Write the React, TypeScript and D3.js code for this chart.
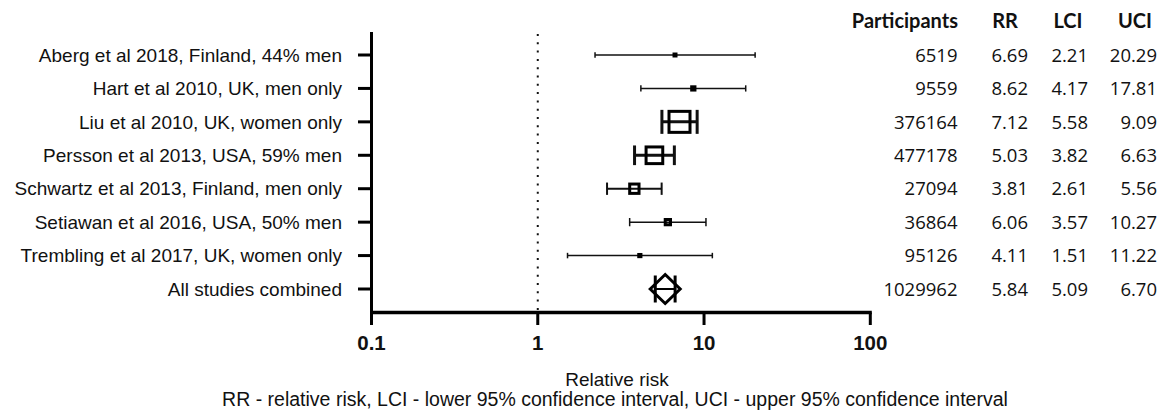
import React from "react";
import * as d3 from "d3";

const studies = [
  "Aberg et al 2018, Finland, 44% men",
  "Hart et al 2010, UK, men only",
  "Liu et al 2010, UK, women only",
  "Persson et al 2013, USA, 59% men",
  "Schwartz et al 2013, Finland, men only",
  "Setiawan et al 2016, USA, 50% men",
  "Trembling et al 2017, UK, women only",
];
const participants = [6519, 9559, 376164, 477178, 27094, 36864, 95126];
const rr = [6.69, 8.62, 7.12, 5.03, 3.81, 6.06, 4.11];
const lci = [2.21, 4.17, 5.58, 3.82, 2.61, 3.57, 1.51];
const uci = [20.29, 17.81, 9.09, 6.63, 5.56, 10.27, 11.22];

const combinedLabel = "All studies combined";
const combinedParticipants = 1029962;
const combinedRR = 5.84;
const combinedLCI = 5.09;
const combinedUCI = 6.7;

const xTicks = [0.1, 1, 10, 100];
const tableHeaders = ["Participants", "RR", "LCI", "UCI"];
const xAxisTitle = "Relative risk";
const footnote =
  "RR - relative risk, LCI - lower 95% confidence interval,  UCI - upper 95% confidence interval";

const W = 1162;
const H = 416;
const ARIAL = "'Liberation Sans', Arial, sans-serif";
const CAL = "Lato, 'Open Sans', sans-serif";
const NUM = "'Open Sans', Lato, sans-serif";

export default function App() {
  const rowLabels = [...studies, combinedLabel];
  const x = d3.scaleLog().domain([0.1, 100]).range([371.5, 870.3]);
  const y = d3.scalePoint<string>().domain(rowLabels).range([55, 289]);

  // inverse-variance weights -> marker size
  const weights = lci.map((l, i) => {
    const se = (Math.log(uci[i]) - Math.log(l)) / (2 * 1.96);
    return 1 / (se * se);
  });
  const sizeScale = d3
    .scaleLinear()
    .domain([0, d3.max(weights) as number])
    .range([4, 24]);

  const axisTop = 32;
  const axisY = 312.5;
  const axisX = x(0.1);

  const colRight = [957.5, 1028, 1088, 1157];
  const headerX = [958, 1005, 1068, 1135];
  const headerAnchor = ["end", "middle", "middle", "middle"];

  const tableRows = rowLabels.map((_, i) =>
    i < studies.length
      ? [String(participants[i]), rr[i].toFixed(2), lci[i].toFixed(2), uci[i].toFixed(2)]
      : [
          String(combinedParticipants),
          combinedRR.toFixed(2),
          combinedLCI.toFixed(2),
          combinedUCI.toFixed(2),
        ]
  );

  const cy = y(combinedLabel) as number;
  const dcx = x(combinedRR);
  const dHalfW = 15;
  const dHalfH = 14.5;

  return (
    <div style={{ position: "absolute", left: 0, top: 0 }}>
      <svg width={W} height={H} style={{ display: "block", background: "#fff" }}>
        {/* y-axis labels */}
        {rowLabels.map((s) => (
          <text
            key={s}
            x={342}
            y={y(s)}
            dy="0.35em"
            textAnchor="end"
            fontFamily={ARIAL}
            fontSize={19}
            fill="#111"
          >
            {s}
          </text>
        ))}

        {/* dotted reference line at RR = 1 */}
        <line
          x1={x(1)}
          x2={x(1)}
          y1={axisTop + 2}
          y2={axisY - 2}
          stroke="#111"
          strokeWidth={2}
          strokeDasharray="2 6.3"
        />

        {/* y-axis */}
        <line x1={axisX} x2={axisX} y1={axisTop} y2={axisY + 1.5} stroke="#000" strokeWidth={3} />
        {rowLabels.map((s) => (
          <line
            key={"t" + s}
            x1={358}
            x2={axisX}
            y1={y(s)}
            y2={y(s)}
            stroke="#000"
            strokeWidth={3}
          />
        ))}

        {/* x-axis */}
        <line x1={axisX - 1.5} x2={x(100) + 1.5} y1={axisY} y2={axisY} stroke="#000" strokeWidth={3.5} />
        {xTicks.map((t) => (
          <g key={"x" + t}>
            <line x1={x(t)} x2={x(t)} y1={axisY} y2={axisY + 12.5} stroke="#000" strokeWidth={3} />
            <text
              x={x(t)}
              y={350}
              textAnchor="middle"
              fontFamily={ARIAL}
              fontWeight="bold"
              fontSize={20.5}
              fill="#111"
            >
              {String(t)}
            </text>
          </g>
        ))}

        {/* study markers */}
        {studies.map((s, i) => {
          const yy = y(s) as number;
          const size = sizeScale(weights[i]);
          const lw = size >= 15 ? 3 : size >= 10 ? 2 : 1.5;
          const capH = Math.max(5.5, size);
          const cx = x(rr[i]);
          return (
            <g key={"m" + s}>
              <line x1={x(lci[i])} x2={x(uci[i])} y1={yy} y2={yy} stroke="#111" strokeWidth={lw} />
              <line
                x1={x(lci[i])}
                x2={x(lci[i])}
                y1={yy - capH / 2}
                y2={yy + capH / 2}
                stroke="#111"
                strokeWidth={lw}
              />
              <line
                x1={x(uci[i])}
                x2={x(uci[i])}
                y1={yy - capH / 2}
                y2={yy + capH / 2}
                stroke="#111"
                strokeWidth={lw}
              />
              {size <= 6.5 ? (
                <rect x={cx - size / 2} y={yy - size / 2} width={size} height={size} fill="#000" />
              ) : (
                <rect
                  x={cx - size / 2 + 1.5}
                  y={yy - size / 2 + 1.5}
                  width={size - 3}
                  height={size - 3}
                  fill="none"
                  stroke="#000"
                  strokeWidth={3}
                />
              )}
            </g>
          );
        })}

        {/* combined estimate */}
        <g>
          <line x1={x(combinedLCI)} x2={x(combinedUCI)} y1={cy} y2={cy} stroke="#000" strokeWidth={2} />
          <line x1={x(combinedLCI)} x2={x(combinedLCI)} y1={cy - 13.5} y2={cy + 13.5} stroke="#000" strokeWidth={3} />
          <line x1={x(combinedUCI)} x2={x(combinedUCI)} y1={cy - 13.5} y2={cy + 13.5} stroke="#000" strokeWidth={3} />
          <polygon
            points={`${dcx - dHalfW},${cy} ${dcx},${cy - dHalfH} ${dcx + dHalfW},${cy} ${dcx},${cy + dHalfH}`}
            fill="none"
            stroke="#000"
            strokeWidth={3}
          />
        </g>

        {/* table header */}
        {tableHeaders.map((h, j) => (
          <text
            key={"h" + h}
            x={headerX[j]}
            y={28}
            textAnchor={headerAnchor[j] as any}
            fontFamily={CAL}
            fontWeight="bold"
            fontSize={20}
            fill="#111"
          >
            {h}
          </text>
        ))}
        {/* table body */}
        {tableRows.map((row, i) =>
          row.map((v, j) => (
            <text
              key={"c" + i + "-" + j}
              x={colRight[j]}
              y={y(rowLabels[i])}
              dy="0.36em"
              textAnchor="end"
              fontFamily={NUM}
              fontSize={18.5}
              fill="#111"
            >
              {v}
            </text>
          ))
        )}

        {/* axis titles */}
        <text x={617} y={386} textAnchor="middle" fontFamily={ARIAL} fontSize={19} fill="#111">
          {xAxisTitle}
        </text>
        <text x={615} y={406} textAnchor="middle" fontFamily={ARIAL} fontSize={19.5} fill="#111">
          {footnote}
        </text>
      </svg>
    </div>
  );
}
